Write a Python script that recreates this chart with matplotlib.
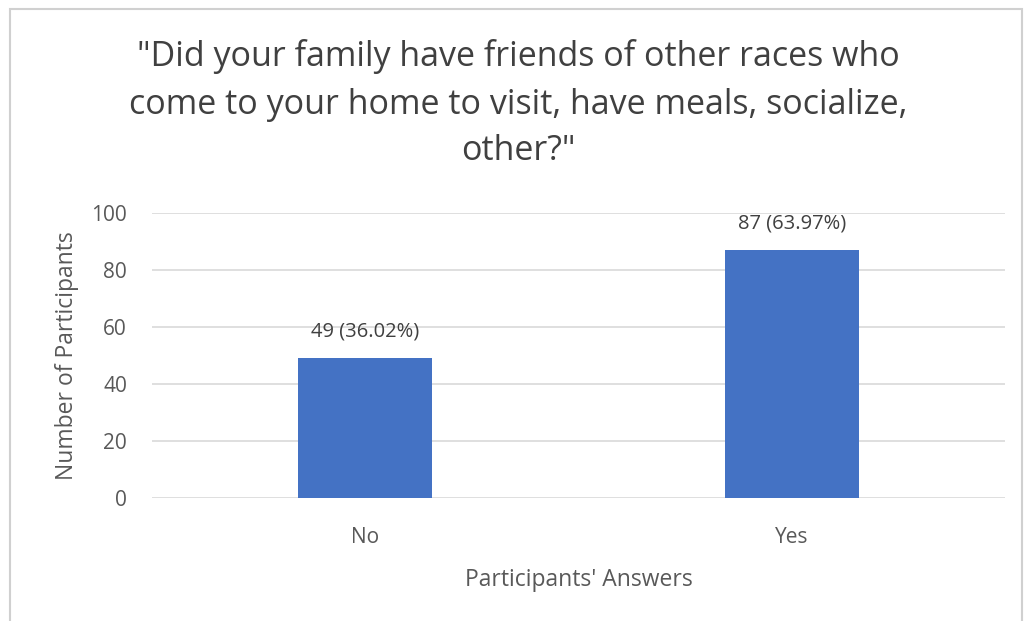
import matplotlib.pyplot as plt
from matplotlib.patches import Rectangle

# survey answers
answers = ["No", "Yes"]
counts = [49, 87]
percents = [36.02, 63.97]
y_ticks = [0, 20, 40, 60, 80, 100]

title = ('"Did your family have friends of other races who\n'
         'come to your home to visit, have meals, socialize,\n'
         'other?"')

plt.rcParams['font.family'] = ['Open Sans', 'DejaVu Sans']
text_col = "#595959"

fig = plt.figure(figsize=(10.25, 6.21), dpi=100)
ax = fig.add_axes([152 / 1025, 1 - 498 / 621, 853 / 1025, 285 / 621])

x = range(len(answers))
bars = ax.bar(x, counts, width=0.315, color="#4472C4", zorder=2)

for b, c, p in zip(bars, counts, percents):
    ax.annotate(f"{c} ({p:.2f}%)", (b.get_x() + b.get_width() / 2, c),
                xytext=(0, 19), textcoords="offset points",
                ha="center", va="center", fontsize=14.5, color="#404040")

ax.set_xlim(-0.5, 1.5)
ax.set_ylim(0, 100)
ax.set_yticks(y_ticks)
ax.set_xticks(list(x))
ax.set_xticklabels(answers)
ax.tick_params(length=0, labelsize=15, colors=text_col)
ax.tick_params(axis="y", pad=18)
ax.tick_params(axis="x", pad=21)
ax.grid(axis="y", color="#D9D9D9", linewidth=1.2, zorder=0)
for s in ax.spines.values():
    s.set_visible(False)

ax.set_ylabel("Number of Participants", fontsize=16.5, color=text_col, va="center")
ax.set_xlabel("Participants' Answers", fontsize=16.5, color=text_col, va="center")
ax.yaxis.set_label_coords(-0.1, 0.5)
ax.xaxis.set_label_coords(0.5, -0.288)

fig.text(518 / 1025, 1 - 104 / 621, title, ha="center", va="center",
         fontsize=24.5, color="#404040", linespacing=1.5)

# chart frame
fig.patches.append(Rectangle((10 / 1025, -0.05), 1012 / 1025, 1.05 - 9 / 621,
                             transform=fig.transFigure, fill=False,
                             edgecolor="#D0D0D0", linewidth=1.5))

fig.savefig("out.png", dpi=100)
